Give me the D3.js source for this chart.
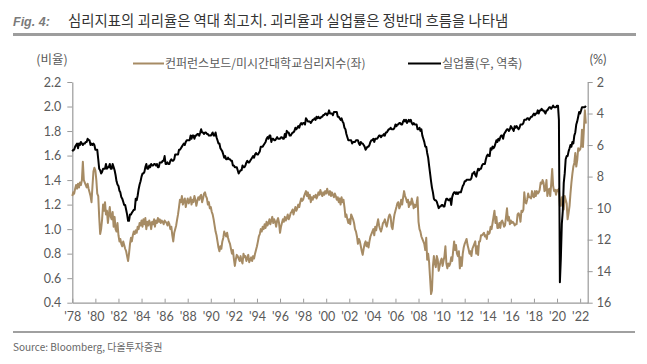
<!DOCTYPE html>
<html><head><meta charset="utf-8">
<script src="https://cdn.jsdelivr.net/npm/d3@7"></script>
<style>
html,body{margin:0;padding:0;background:#fff;}
svg{display:block;}
</style></head>
<body>
<svg id="c" width="647" height="364"></svg>
<script>
const startYear = 1978;
const xTickLabels = ["'78","'80","'82","'84","'86","'88","'90","'92","'94","'96","'98","'00","'02","'04","'06","'08","'10","'12","'14","'16","'18","'20","'22"];
const leftTicks = [0.4,0.6,0.8,1.0,1.2,1.4,1.6,1.8,2.0,2.2];
const rightTicks = [2,4,6,8,10,12,14,16];

// US unemployment rate, monthly from Jan 1978 (%)
const unempRate = [
6.4,6.3,6.3,6.1,6.0,5.9,6.2,5.9,6.0,5.8,5.9,6.0,
5.9,5.9,5.8,5.8,5.6,5.7,5.7,6.0,5.9,6.0,5.9,6.0,
6.3,6.3,6.3,6.9,7.5,7.6,7.8,7.7,7.5,7.5,7.5,7.2,
7.5,7.4,7.4,7.2,7.5,7.5,7.2,7.4,7.6,7.9,8.3,8.5,
8.6,8.9,9.0,9.3,9.4,9.6,9.8,9.8,10.1,10.4,10.8,10.8,
10.4,10.4,10.3,10.2,10.1,10.1,9.4,9.5,9.2,8.8,8.5,8.3,
8.0,7.8,7.8,7.7,7.4,7.2,7.5,7.5,7.3,7.4,7.2,7.3,
7.3,7.2,7.2,7.3,7.2,7.4,7.4,7.1,7.1,7.1,7.0,7.0,
6.7,7.2,7.2,7.1,7.2,7.2,7.0,6.9,7.0,7.0,6.9,6.6,
6.6,6.6,6.6,6.3,6.3,6.2,6.1,6.0,5.9,6.0,5.8,5.7,
5.7,5.7,5.7,5.4,5.6,5.4,5.4,5.6,5.4,5.4,5.3,5.3,
5.4,5.2,5.0,5.2,5.2,5.3,5.2,5.2,5.3,5.3,5.4,5.4,
5.4,5.3,5.2,5.4,5.4,5.2,5.5,5.7,5.9,5.9,6.2,6.3,
6.4,6.6,6.8,6.7,6.9,6.9,6.8,6.9,6.9,7.0,7.0,7.3,
7.3,7.4,7.4,7.4,7.6,7.8,7.7,7.6,7.6,7.3,7.4,7.4,
7.3,7.1,7.0,7.1,7.1,7.0,6.9,6.8,6.7,6.8,6.6,6.5,
6.6,6.6,6.5,6.4,6.1,6.1,6.1,6.0,5.9,5.8,5.6,5.5,
5.6,5.4,5.4,5.8,5.6,5.6,5.7,5.7,5.6,5.5,5.6,5.6,
5.6,5.5,5.5,5.6,5.6,5.3,5.5,5.1,5.2,5.2,5.4,5.4,
5.3,5.2,5.2,5.1,4.9,5.0,4.9,4.8,4.9,4.7,4.6,4.7,
4.6,4.6,4.7,4.3,4.4,4.5,4.5,4.5,4.6,4.5,4.4,4.4,
4.3,4.4,4.2,4.3,4.2,4.3,4.3,4.2,4.2,4.1,4.1,4.0,
4.0,4.1,4.0,3.8,4.0,4.0,4.0,4.1,3.9,3.9,3.9,3.9,
4.2,4.2,4.3,4.4,4.3,4.5,4.6,4.9,5.0,5.3,5.5,5.7,
5.7,5.7,5.7,5.9,5.8,5.8,5.8,5.7,5.7,5.7,5.9,6.0,
5.8,5.9,5.9,6.0,6.1,6.3,6.2,6.1,6.1,6.0,5.8,5.7,
5.7,5.6,5.8,5.6,5.6,5.6,5.5,5.4,5.4,5.5,5.4,5.4,
5.3,5.4,5.2,5.2,5.1,5.0,5.0,4.9,5.0,5.0,5.0,4.9,
4.7,4.8,4.7,4.7,4.6,4.6,4.7,4.7,4.5,4.4,4.5,4.4,
4.6,4.5,4.4,4.5,4.4,4.6,4.7,4.6,4.7,4.7,4.7,5.0,
5.0,4.9,5.1,5.0,5.4,5.6,5.8,6.1,6.1,6.5,6.8,7.3,
7.8,8.3,8.7,9.0,9.4,9.5,9.5,9.6,9.8,10.0,9.9,9.9,
9.8,9.8,9.9,9.9,9.6,9.4,9.4,9.5,9.5,9.4,9.8,9.3,
9.1,9.0,9.0,9.1,9.0,9.1,9.0,9.0,9.0,8.8,8.6,8.5,
8.3,8.3,8.2,8.2,8.2,8.2,8.2,8.1,7.8,7.8,7.7,7.9,
8.0,7.7,7.5,7.6,7.5,7.5,7.3,7.2,7.2,7.2,6.9,6.7,
6.6,6.7,6.7,6.2,6.3,6.1,6.2,6.1,5.9,5.7,5.8,5.6,
5.7,5.5,5.4,5.4,5.6,5.3,5.2,5.1,5.0,5.0,5.1,5.0,
4.8,4.9,5.0,5.1,4.8,4.9,4.8,4.9,5.0,4.9,4.7,4.7,
4.7,4.6,4.4,4.4,4.4,4.3,4.3,4.4,4.3,4.2,4.2,4.1,
4.0,4.1,4.0,4.0,3.8,4.0,3.8,3.8,3.7,3.8,3.8,3.9,
4.0,3.8,3.8,3.7,3.6,3.6,3.7,3.6,3.5,3.6,3.6,3.6,
3.5,3.5,4.4,14.7,13.2,11.0,10.2,8.4,7.8,6.9,6.7,6.7,
6.4,6.2,6.0,6.1,5.8,5.9,5.4,5.2,4.7,4.5,4.2,3.9,
4.0,3.8,3.6,3.6,3.6,3.6,3.5
];

// Conference Board / Univ. of Michigan sentiment ratio, monthly from Jan 1978
const sentimentRatio = [
1.27,1.30,1.29,1.33,1.36,1.33,1.37,1.34,1.38,1.36,1.40,1.55,
1.40,1.38,1.36,1.34,1.37,1.33,1.30,1.27,1.22,1.35,1.47,1.50,
1.48,1.40,1.29,1.27,1.10,0.96,1.00,1.08,1.20,1.15,1.22,1.12,
1.15,1.05,1.12,1.18,1.10,1.08,1.14,1.02,1.10,1.00,0.98,1.05,
0.95,0.90,0.92,0.88,0.86,0.90,0.87,0.84,0.82,0.78,0.74,0.80,
0.88,0.93,0.90,0.95,0.98,0.96,0.99,0.97,1.02,1.00,1.05,1.03,
1.07,1.02,1.08,1.04,1.09,1.00,1.06,1.03,1.07,1.05,1.00,1.06,
1.04,1.08,1.02,1.07,1.05,1.09,1.06,1.08,1.05,1.07,1.06,1.04,
1.07,1.06,1.05,1.03,1.06,1.04,1.00,1.02,0.95,0.90,0.97,1.00,
1.03,1.08,1.12,1.18,1.24,1.22,1.27,1.20,1.23,1.25,1.18,1.22,
1.25,1.21,1.23,1.26,1.20,1.24,1.22,1.27,1.24,1.19,1.23,1.26,
1.24,1.27,1.28,1.22,1.25,1.29,1.30,1.27,1.25,1.20,1.22,1.17,
1.18,1.14,1.12,1.08,1.03,0.98,0.95,0.90,0.85,0.82,0.86,0.84,
0.90,0.93,0.98,0.96,0.94,0.97,0.93,0.90,0.88,0.84,0.80,0.83,
0.76,0.70,0.75,0.79,0.78,0.76,0.74,0.78,0.74,0.72,0.80,0.77,
0.78,0.74,0.76,0.79,0.73,0.75,0.77,0.74,0.78,0.76,0.80,0.83,
0.86,0.90,0.94,0.96,1.00,0.98,1.02,1.00,1.04,1.01,1.06,1.03,
1.05,1.08,1.04,1.07,1.10,1.05,1.08,1.06,1.02,1.07,1.09,1.05,
0.97,1.02,1.05,1.08,1.06,1.10,1.07,1.09,1.12,1.08,1.10,1.13,
1.14,1.16,1.12,1.15,1.18,1.15,1.17,1.20,1.18,1.22,1.25,1.23,
1.24,1.27,1.29,1.31,1.27,1.30,1.25,1.28,1.22,1.26,1.24,1.27,
1.26,1.28,1.25,1.27,1.30,1.28,1.32,1.29,1.27,1.30,1.28,1.31,
1.29,1.33,1.30,1.28,1.31,1.27,1.30,1.28,1.26,1.29,1.27,1.24,
1.26,1.22,1.25,1.20,1.26,1.22,1.24,1.18,1.10,1.12,1.08,1.05,
1.08,1.04,1.12,1.10,1.08,1.05,1.00,0.98,0.94,0.88,0.92,0.90,
0.86,0.82,0.79,0.84,0.88,0.90,0.86,0.89,0.85,0.90,0.94,0.96,
0.98,1.00,0.95,1.02,0.99,1.04,1.08,1.03,1.00,0.98,1.01,1.05,
1.06,1.08,1.04,1.02,1.06,1.10,1.12,1.10,1.02,1.00,1.07,1.12,
1.15,1.18,1.21,1.22,1.17,1.19,1.24,1.20,1.26,1.31,1.27,1.25,
1.22,1.24,1.18,1.22,1.20,1.25,1.22,1.17,1.20,1.18,1.21,1.26,
1.06,1.00,0.98,0.94,0.92,0.90,0.88,0.83,0.93,0.75,0.80,0.73,
0.60,0.47,0.50,0.70,0.78,0.72,0.69,0.78,0.75,0.66,0.70,0.74,
0.76,0.70,0.74,0.78,0.86,0.72,0.68,0.72,0.70,0.72,0.77,0.74,
0.82,0.90,0.83,0.87,0.80,0.78,0.82,0.68,0.77,0.70,0.80,0.85,
0.88,0.90,0.92,0.87,0.84,0.80,0.82,0.78,0.84,0.86,0.88,0.90,
0.80,0.86,0.79,0.90,0.90,0.95,0.95,0.96,0.97,0.94,0.95,0.92,
0.98,0.96,0.97,1.02,1.00,1.05,1.10,1.15,1.05,1.10,1.01,1.01,
1.05,1.01,1.06,1.07,1.05,1.02,1.03,1.10,1.17,1.07,1.10,1.04,
1.07,1.05,1.06,1.05,1.03,1.04,1.04,1.12,1.13,1.11,1.06,1.15,
1.14,1.16,1.30,1.22,1.21,1.24,1.29,1.26,1.26,1.25,1.31,1.27,
1.26,1.31,1.27,1.31,1.29,1.30,1.32,1.38,1.37,1.40,1.38,1.31,
1.32,1.40,1.27,1.31,1.33,1.27,1.37,1.49,1.35,1.31,1.32,1.28,
1.32,1.31,1.33,1.19,1.19,1.26,1.26,1.16,1.27,1.24,1.21,1.08,
1.13,1.19,1.29,1.38,1.45,1.51,1.54,1.62,1.51,1.56,1.66,1.64,
1.65,1.68,1.81,1.67,1.82,1.97,1.86
];

const seriesNames = ["컨퍼런스보드/미시간대학교심리지수(좌)", "실업률(우, 역축)"];
const titleText = "심리지표의 괴리율은 역대 최고치. 괴리율과 실업률은 정반대 흐름을 나타냄";
const sourceText = "Source: Bloomberg, 다올투자증권";

const TAN = "#a68b64";
const AXIS = "#9a9a9a";
const LBL = "#5a5a5a";
const KR = "'Noto Sans CJK KR','Noto Sans',sans-serif";
const NUM = "Lato,'Noto Sans',sans-serif";

const svg = d3.select("#c");
const monthDate = i => new Date(startYear + Math.floor(i/12), i%12, 1);

const x = d3.scaleTime().domain([new Date(1978,0,1), new Date(2022,7,29)]).range([72.3, 587.7]);
const yL = d3.scaleLinear().domain([0.4,2.2]).range([302.7, 82]);
const yR = d3.scaleLinear().domain([2,16]).range([82, 302.7]);

// Title
svg.append("text").attr("x",13).attr("y",26).attr("font-family","'Liberation Sans',Arial,sans-serif")
  .attr("font-style","italic").attr("font-weight","bold").attr("font-size",12.5).attr("fill","#7a7a7a").text("Fig. 4:");
svg.append("text").attr("x",68).attr("y",26).attr("font-family",KR).attr("font-size",14.4).attr("fill","#333").text(titleText);
svg.append("line").attr("x1",13).attr("x2",636).attr("y1",34.5).attr("y2",34.5).attr("stroke","#9d9d9d").attr("stroke-width",3);

// Units
svg.append("text").attr("x",52).attr("y",64).attr("text-anchor","middle").attr("font-family",KR).attr("font-size",12.5).attr("fill",LBL).text("(비율)");
svg.append("text").attr("x",598).attr("y",64).attr("text-anchor","middle").attr("font-family",NUM).attr("font-size",12.5).attr("fill",LBL).text("(%)");

// Legend
svg.append("line").attr("x1",133).attr("x2",164).attr("y1",63.5).attr("y2",63.5).attr("stroke",TAN).attr("stroke-width",2);
svg.append("text").attr("x",165).attr("y",68).attr("font-family",KR).attr("font-size",12).attr("fill",LBL).text(seriesNames[0]);
svg.append("line").attr("x1",408).attr("x2",441).attr("y1",63.5).attr("y2",63.5).attr("stroke","#000").attr("stroke-width",2);
svg.append("text").attr("x",442).attr("y",68).attr("font-family",KR).attr("font-size",12).attr("fill",LBL).text(seriesNames[1]);

// Axes
function styleAxis(g){
  g.select(".domain").attr("stroke",AXIS).attr("stroke-width",1.2);
  g.selectAll(".tick line").attr("stroke",AXIS).attr("stroke-width",1);
  g.selectAll(".tick text").attr("fill",LBL).attr("font-family",NUM).attr("font-size",12.5);
}
const gL = svg.append("g").attr("transform","translate(72.3,0)")
  .call(d3.axisLeft(yL).tickValues(leftTicks).tickFormat(d3.format(".1f")).tickSize(5).tickSizeOuter(0).tickPadding(6));
styleAxis(gL);
const gR = svg.append("g").attr("transform","translate(587.7,0)")
  .call(d3.axisRight(yR).tickValues(rightTicks).tickFormat(d3.format("d")).tickSize(5).tickSizeOuter(0).tickPadding(4));
styleAxis(gR);
const tickDates = xTickLabels.map((_,i)=>new Date(startYear+2*i,0,1));
const gB = svg.append("g").attr("transform","translate(0,302.7)")
  .call(d3.axisBottom(x).tickValues(tickDates).tickFormat((d,i)=>xTickLabels[i]).tickSize(-4).tickSizeOuter(0).tickPadding(9));
styleAxis(gB);
gB.selectAll(".tick text").attr("font-size",12.5);

// Lines
const lineL = d3.line().x((d,i)=>x(monthDate(i))).y(d=>yL(d));
const lineR = d3.line().x((d,i)=>x(monthDate(i))).y(d=>yR(d));
svg.append("path").datum(sentimentRatio).attr("d",lineL).attr("fill","none").attr("stroke",TAN).attr("stroke-width",2).attr("stroke-linejoin","round");
svg.append("path").datum(unempRate).attr("d",lineR).attr("fill","none").attr("stroke","#000").attr("stroke-width",2).attr("stroke-linejoin","round");

// Footer
svg.append("line").attr("x1",13).attr("x2",635).attr("y1",332).attr("y2",332).attr("stroke","#a0a0a0").attr("stroke-width",2);
svg.append("text").attr("x",13).attr("y",351).attr("font-family",KR).attr("font-size",10).attr("fill","#666").text(sourceText);
</script>
</body></html>
